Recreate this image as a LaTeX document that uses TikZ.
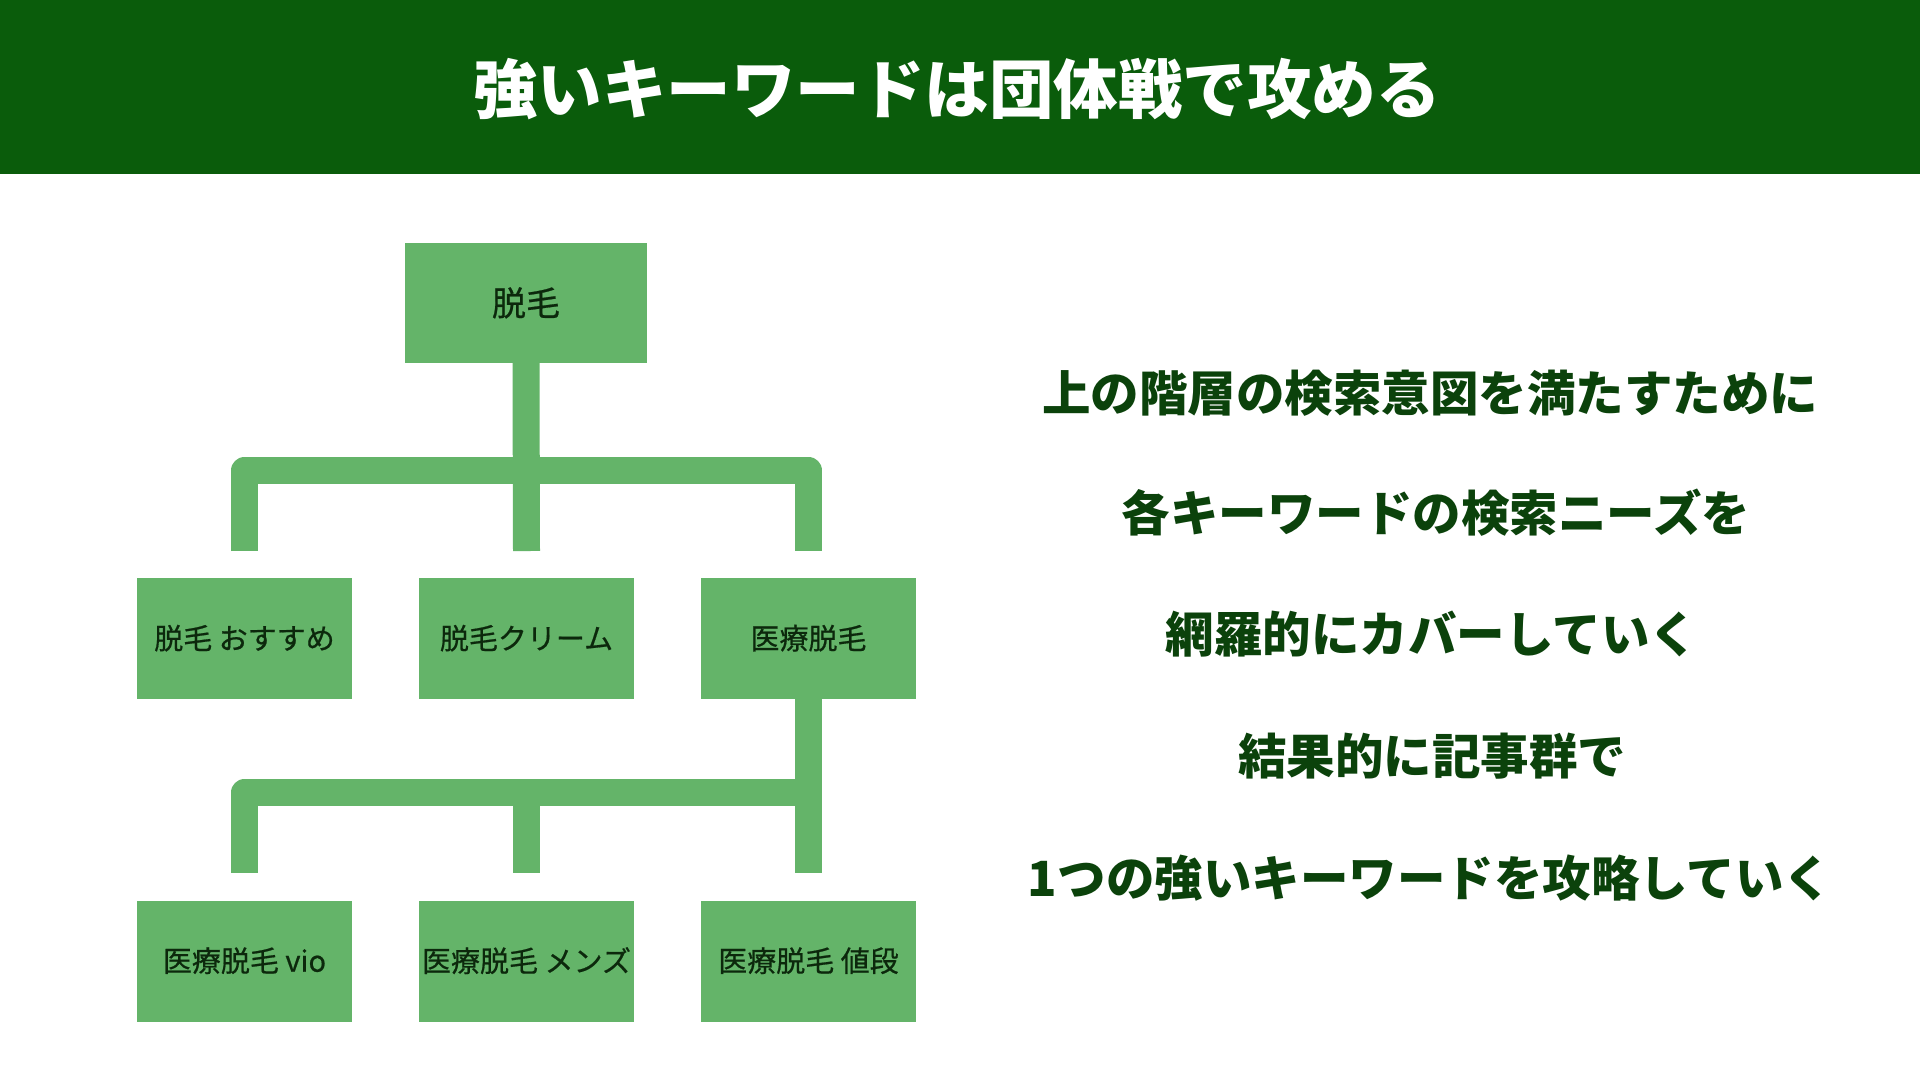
\documentclass[tikz,border=0pt]{standalone}
\usepackage{fontspec}
\newfontfamily\jp{Noto Sans CJK JP}
\newfontfamily\jpbox{Noto Sans CJK JP}[FakeBold=0.6]
\definecolor{headgreen}{RGB}{10,92,11}
\definecolor{boxgreen}{RGB}{100,180,105}
\definecolor{textgreen}{RGB}{11,66,11}
\definecolor{boxtext}{RGB}{12,40,12}
\newcommand{\up}[1]{\raisebox{3pt}{#1}}
\begin{document}
\begin{tikzpicture}[x=1pt,y=-1pt,
  kwbox/.style={rectangle, fill=boxgreen, draw=none, inner sep=0pt,
    minimum width=215pt, minimum height=121pt, text=boxtext,
    font=\jpbox\fontsize{29}{34}\selectfont},
  link/.style={draw=boxgreen, line width=27pt, line cap=butt, line join=round},
  bodytext/.style={text=textgreen, font=\jp\bfseries\fontsize{48.5}{56}\selectfont, inner sep=0pt},
]
\useasboundingbox (0,0) rectangle (1920,1080);
\fill[white] (0,0) rectangle (1920,1080);
\fill[headgreen] (0,0) rectangle (1920,174);
\node[text=white, font=\jp\bfseries\fontsize{64.5}{72}\selectfont, inner sep=0pt] (title) at (957,89) {強いキーワードは団体戦で攻める};

% boxes
\node[kwbox, minimum width=242pt, minimum height=120pt, font=\jpbox\fontsize{34}{40}\selectfont] (top) at (526,303) {\up{脱毛}};
\node[kwbox] (m1) at (244.5,638.5) {\up{脱毛 おすすめ}};
\node[kwbox] (m2) at (526.5,638.5) {\up{脱毛クリーム}};
\node[kwbox] (m3) at (808.5,638.5) {\up{医療脱毛}};
\node[kwbox] (b1) at (244.5,961) {\up{医療脱毛 vio}};
\node[kwbox] (b2) at (526.5,961) {\up{医療脱毛 メンズ}};
\node[kwbox] (b3) at (808.5,961) {\up{医療脱毛 値段}};

% connector 1
\coordinate (c1L) at (244.5,470.5);
\coordinate (c1R) at (808.5,470.5);
\coordinate (l1) at (244.5,551);
\coordinate (l2) at (526.5,551);
\coordinate (l3) at (808.5,551);
\draw[link] (top.south) -- (l2);
\draw[link] (l1) -- (c1L) -- (c1R) -- (l3);

% connector 2
\coordinate (c2L) at (244.5,792.5);
\coordinate (c2R) at (808.5,792.5);
\coordinate (c2M) at (526.5,792.5);
\coordinate (k1) at (244.5,873);
\coordinate (k2) at (526.5,873);
\coordinate (k3) at (808.5,873);
\draw[link] (m3.south) -- (k3);
\draw[link] (c2R) -- (c2L) -- (k1);
\draw[link] (c2M) -- (k2);

% right text
\node[bodytext] (t1) at (1430,393) {上の階層の検索意図を満たすために};
\node[bodytext] (t2) at (1436,513) {各キーワードの検索ニーズを};
\node[bodytext] (t3) at (1432,634) {網羅的にカバーしていく};
\node[bodytext] (t4) at (1432,756) {結果的に記事群で};
\node[bodytext] (t5) at (1430,878) {1つの強いキーワードを攻略していく};
\end{tikzpicture}
\end{document}
